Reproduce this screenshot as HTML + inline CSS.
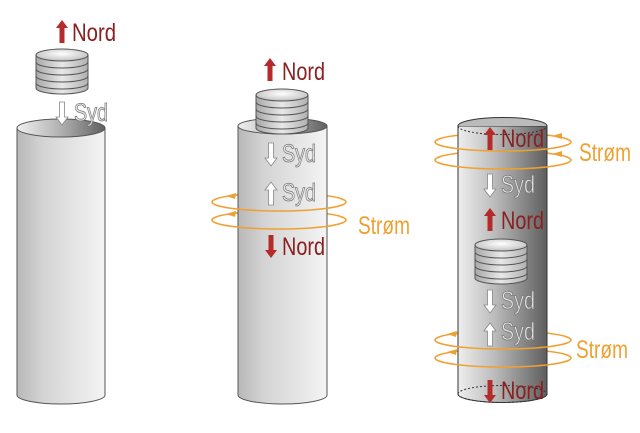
<!DOCTYPE html>
<html><head><meta charset="utf-8"><style>html,body{margin:0;padding:0;background:#fff}svg{display:block}text{font-family:"Liberation Sans",sans-serif;font-size:25px}</style></head><body>
<svg width="640" height="433" viewBox="0 0 640 433" xmlns="http://www.w3.org/2000/svg">
<defs>
<linearGradient id="cyl" x1="0" x2="1"><stop offset="0" stop-color="#b8b8b8"/><stop offset="0.3" stop-color="#d4d4d4"/><stop offset="1" stop-color="#f4f4f4"/></linearGradient>
<linearGradient id="inner" x1="0" x2="1"><stop offset="0" stop-color="#f0f0f0"/><stop offset="0.5" stop-color="#b0b0b0"/><stop offset="1" stop-color="#606060"/></linearGradient>
<linearGradient id="dark" x1="0" x2="1"><stop offset="0" stop-color="#eeeeee"/><stop offset="0.4" stop-color="#bdbdbd"/><stop offset="1" stop-color="#5e5e5e"/></linearGradient>
<linearGradient id="mag" x1="0" x2="1"><stop offset="0" stop-color="#a8a8a8"/><stop offset="0.5" stop-color="#e8e8e8"/><stop offset="1" stop-color="#b0b0b0"/></linearGradient>
<radialGradient id="magtop" cx="0.5" cy="0.4" r="0.6"><stop offset="0" stop-color="#fff"/><stop offset="1" stop-color="#c0c0c0"/></radialGradient>
<g id="magnet">
<path d="M0,5 L0,38 A26,6 0 0 0 52,38 L52,5 Z" fill="url(#mag)" stroke="#555" stroke-width="1"/>
<g fill="none" stroke="#555" stroke-width="1">
<path d="M0,12 A26,6 0 0 0 52,12"/><path d="M0,19 A26,6 0 0 0 52,19"/><path d="M0,26 A26,6 0 0 0 52,26"/><path d="M0,33 A26,6 0 0 0 52,33"/></g>
<ellipse cx="26" cy="5" rx="26" ry="6" fill="url(#magtop)" stroke="#555"/>
</g>
<g id="up"><path d="M-2.5,23 L-2.5,8 L-6,8 L0,0 L6,8 L2.5,8 L2.5,23 Z"/></g>
<g id="down"><path d="M-2.5,0 L-2.5,15 L-6,15 L0,23 L6,15 L2.5,15 L2.5,0 Z"/></g>
</defs>

<!-- back arcs of loops -->
<g fill="none" stroke="#f0a030" stroke-width="1.6">
<path d="M212,202 A67,9 0 0 1 346,202"/><path d="M212,220 A67,9 0 0 1 346,220"/>
<path d="M435,142 A68,9 0 0 1 571,142"/><path d="M435,160 A68,9 0 0 1 571,160"/>
<path d="M435,340 A68,9 0 0 1 571,340"/><path d="M435,358 A68,9 0 0 1 571,358"/>
</g>

<!-- Cylinder 1 -->
<path d="M17,128 L17,395 A44,9 0 0 0 105,395 L105,128 Z" fill="url(#cyl)" stroke="#555"/>
<ellipse cx="61" cy="128" rx="44" ry="9" fill="url(#inner)" stroke="#555"/>
<use href="#magnet" x="36" y="50"/>
<use href="#up" x="62" y="20" fill="#b52a2a"/>
<text x="72" y="41" fill="#8a2020" textLength="44" lengthAdjust="spacingAndGlyphs">Nord</text>
<use href="#down" x="62" y="102" fill="#fff" stroke="#888" stroke-width="0.8"/>
<text x="74" y="121" fill="#e8e8e8" stroke="#777" stroke-width="0.8" textLength="34" lengthAdjust="spacingAndGlyphs">Syd</text>

<!-- Cylinder 2 -->
<path d="M238,126 L238,395 A44.5,9 0 0 0 327,395 L327,126 Z" fill="url(#cyl)" stroke="#555"/>
<ellipse cx="282.5" cy="126" rx="44.5" ry="8" fill="url(#inner)" stroke="#555"/>
<use href="#magnet" x="256" y="90"/>
<use href="#up" x="270" y="58" fill="#b52a2a"/>
<text x="282" y="80" fill="#8a2020" textLength="43" lengthAdjust="spacingAndGlyphs">Nord</text>
<use href="#down" x="271" y="143" fill="#fff" stroke="#888" stroke-width="0.8"/>
<text x="282" y="162" fill="#e8e8e8" stroke="#777" stroke-width="0.8" textLength="34" lengthAdjust="spacingAndGlyphs">Syd</text>
<use href="#up" x="271" y="182" fill="#fff" stroke="#888" stroke-width="0.8"/>
<text x="282" y="201" fill="#e8e8e8" stroke="#777" stroke-width="0.8" textLength="34" lengthAdjust="spacingAndGlyphs">Syd</text>
<g fill="none" stroke="#f0a030" stroke-width="1.6">
<path d="M212,202 A67,9 0 0 0 346,202"/><path d="M212,220 A67,9 0 0 0 346,220"/></g>
<path d="M226,196 l10,-3 l-1,6z M226,214 l10,-3 l-1,6z" fill="#f0a030"/>
<text x="358" y="234" fill="#f0a030" textLength="52" lengthAdjust="spacingAndGlyphs">Strøm</text>
<use href="#down" x="271" y="235" fill="#b52a2a"/>
<text x="282" y="255" fill="#8a2020" textLength="43" lengthAdjust="spacingAndGlyphs">Nord</text>

<!-- Cylinder 3 -->
<path d="M458,126 L458,394 A44.5,8.5 0 0 0 547,394 L547,126 Z" fill="url(#dark)" stroke="#333"/>
<path d="M458,126 A44.5,8.5 0 0 1 547,126" fill="#bbb" stroke="#333"/>
<path d="M458,126 A44.5,8.5 0 0 0 547,126" fill="none" stroke="#333" stroke-dasharray="2,2"/>
<path d="M458,394 A44.5,8.5 0 0 1 547,394" fill="none" stroke="#333" stroke-dasharray="2,2"/>
<path d="M458,394 A44.5,8.5 0 0 0 547,394" fill="none" stroke="#333" stroke-dasharray="2,2"/>
<use href="#up" x="490" y="127" fill="#b52a2a"/>
<text x="501" y="147" fill="#8a2020" textLength="43" lengthAdjust="spacingAndGlyphs">Nord</text>
<use href="#down" x="490" y="174" fill="#fff" stroke="#888" stroke-width="0.8"/>
<text x="501" y="193" fill="#e8e8e8" stroke="#777" stroke-width="0.8" textLength="34" lengthAdjust="spacingAndGlyphs">Syd</text>
<use href="#up" x="490" y="208" fill="#b52a2a"/>
<text x="501" y="229" fill="#8a2020" textLength="43" lengthAdjust="spacingAndGlyphs">Nord</text>
<use href="#magnet" x="475" y="240"/>
<use href="#down" x="490" y="290" fill="#fff" stroke="#888" stroke-width="0.8"/>
<text x="501" y="309" fill="#e8e8e8" stroke="#777" stroke-width="0.8" textLength="34" lengthAdjust="spacingAndGlyphs">Syd</text>
<use href="#up" x="490" y="323" fill="#fff" stroke="#888" stroke-width="0.8"/>
<text x="501" y="340" fill="#e8e8e8" stroke="#777" stroke-width="0.8" textLength="34" lengthAdjust="spacingAndGlyphs">Syd</text>
<use href="#down" x="490" y="380" fill="#b52a2a"/>
<text x="501" y="399" fill="#8a2020" textLength="43" lengthAdjust="spacingAndGlyphs">Nord</text>
<g fill="none" stroke="#f0a030" stroke-width="1.6">
<path d="M435,142 A68,9 0 0 0 571,142"/><path d="M435,160 A68,9 0 0 0 571,160"/>
<path d="M435,340 A68,9 0 0 0 571,340"/><path d="M435,358 A68,9 0 0 0 571,358"/></g>
<path d="M552,136 l10,-3 l0,6z M552,154 l10,-3 l0,6z M447,334 l10,-3 l-1,6z M447,352 l10,-3 l-1,6z" fill="#f0a030"/>
<text x="579" y="161" fill="#f0a030" textLength="52" lengthAdjust="spacingAndGlyphs">Strøm</text>
<text x="576" y="358" fill="#f0a030" textLength="52" lengthAdjust="spacingAndGlyphs">Strøm</text>
</svg>
</body></html>
